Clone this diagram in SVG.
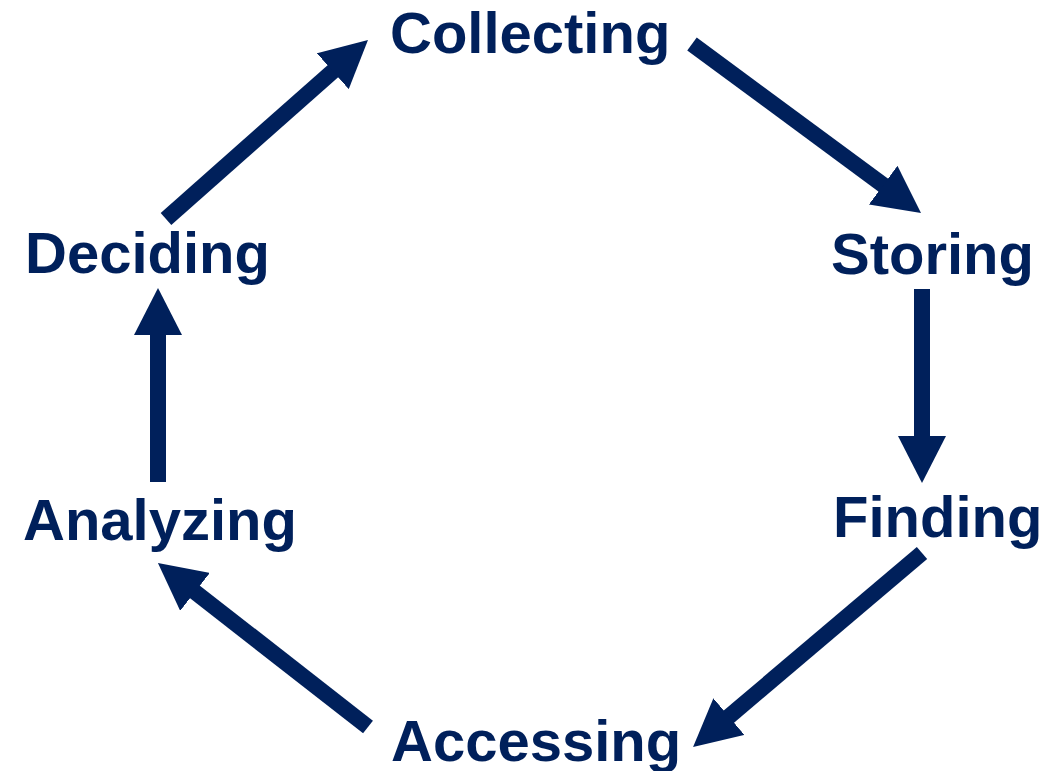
<svg xmlns="http://www.w3.org/2000/svg" width="1061" height="771" viewBox="0 0 1061 771">
  <style>
    .lbl { font-family: "Liberation Sans", Arial, sans-serif; font-weight: bold; font-size: 58px; fill: #00205B; }
    .conn { stroke: #00205B; stroke-width: 16; fill: none; stroke-linecap: butt; }
  </style>
  <defs>
    <marker id="head" viewBox="0 0 47 48" markerWidth="47" markerHeight="48" markerUnits="userSpaceOnUse" refX="2" refY="24" orient="auto">
      <path d="M0,0 L47,24 L0,48 Z" fill="#00205B"/>
    </marker>
  </defs>
  <rect width="1061" height="771" fill="#ffffff"/>
  <g id="connectors">
    <line class="conn" x1="692" y1="44" x2="884.8" y2="186.3" marker-end="url(#head)"/>
    <line class="conn" x1="922" y1="289" x2="922" y2="438" marker-end="url(#head)"/>
    <line class="conn" x1="922" y1="553" x2="727.4" y2="717.9" marker-end="url(#head)"/>
    <line class="conn" x1="368" y1="727" x2="193.4" y2="590.7" marker-end="url(#head)"/>
    <line class="conn" x1="158" y1="482" x2="158" y2="333" marker-end="url(#head)"/>
    <line class="conn" x1="166" y1="219" x2="334.3" y2="69.9" marker-end="url(#head)"/>
  </g>
  <g id="node-collecting"><text class="lbl" x="390" y="53">Collecting</text></g>
  <g id="node-storing"><text class="lbl" x="831" y="274">Storing</text></g>
  <g id="node-finding"><text class="lbl" x="833" y="537">Finding</text></g>
  <g id="node-accessing"><text class="lbl" x="391" y="761">Accessing</text></g>
  <g id="node-analyzing"><text class="lbl" x="23" y="540">Analyzing</text></g>
  <g id="node-deciding"><text class="lbl" x="25" y="273">Deciding</text></g>
</svg>
